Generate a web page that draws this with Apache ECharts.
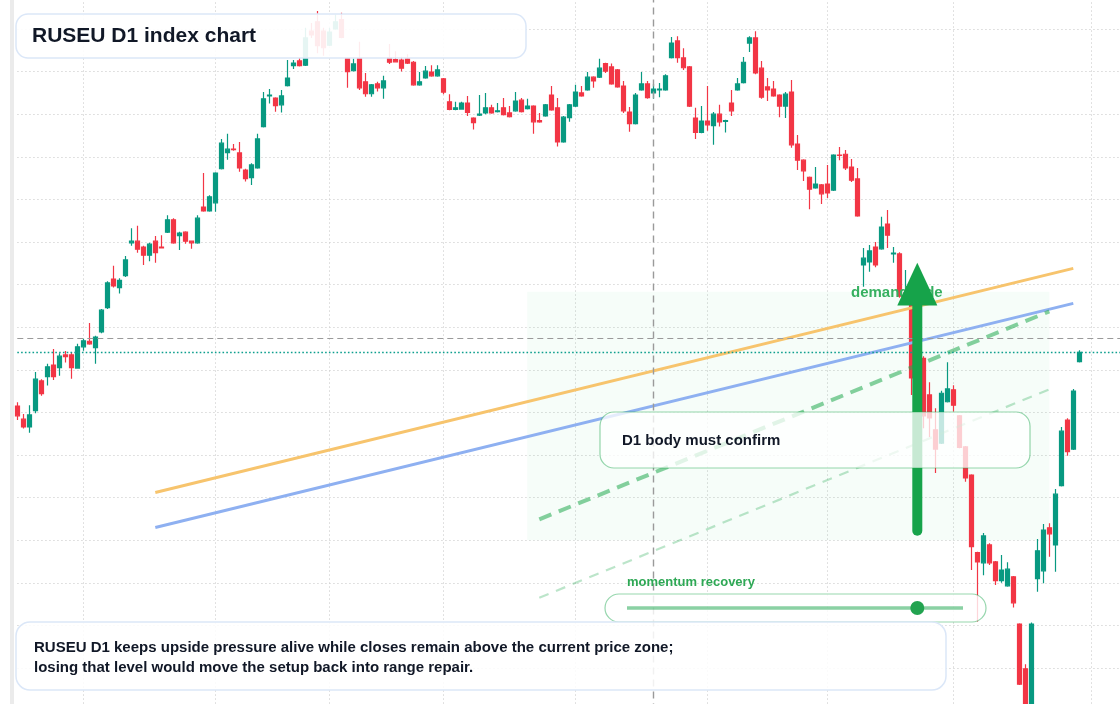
<!DOCTYPE html>
<html>
<head>
<meta charset="utf-8">
<script src="https://cdn.jsdelivr.net/npm/echarts@6/dist/echarts.min.js"></script>
<style>
  html, body { margin: 0; padding: 0; background: #ffffff; }
  #main { width: 1120px; height: 704px; }
</style>
</head>
<body>
<div id="main"></div>
<script>
// ---- data ----
const categories = Array.from({ length: 185 }, (_, i) => 'D' + (i + 1));
const monthStarts = [11, 33, 52, 71, 93, 115, 135, 156, 179];

// [open, close, low, high]
const ohlc = [
[1471.5,1469.2,1468.2,1472.4],[1468.4,1466.6,1466.2,1469.6],[1466.6,1469.4,1465.2,1471.7],[1470.4,1477.8,1469.8,1479.5],[1477.4,1474.4,1473.9,1477.8],
[1478.4,1480.7,1476.3,1481.4],[1481.1,1478.4,1477.6,1484.9],[1480.5,1483.2,1478.6,1483.9],[1483.5,1483.1,1481.7,1484.4],[1483.5,1480.5,1477.9,1484.2],
[1480.4,1485.4,1480.3,1486.1],[1485.4,1486.8,1484.5,1487.3],[1486.7,1486.1,1485.9,1491.0],[1485.2,1487.7,1481.4,1488.0],[1488.9,1494.0,1488.6,1494.3],
[1494.6,1500.4,1494.3,1500.8],[1501.3,1499.7,1499.3,1504.4],[1499.3,1501.0,1497.9,1501.5],[1502.1,1505.8,1501.8,1506.7],[1509.8,1510.2,1509.1,1513.2],
[1510.2,1508.3,1507.5,1513.8],[1508.8,1506.9,1504.6,1509.1],[1506.9,1509.5,1505.5,1509.8],[1510.2,1507.5,1505.1,1511.4],[1508.8,1508.6,1508.5,1511.6],
[1512.3,1515.2,1512.1,1516.3],[1515.2,1509.8,1509.6,1515.6],[1511.5,1512.1,1508.1,1512.4],[1512.3,1510.2,1509.6,1512.5],[1510.2,1509.8,1508.4,1510.3],
[1509.8,1515.6,1509.6,1516.3],[1518.2,1517.3,1517.1,1526.2],[1517.3,1520.6,1517.1,1521.0],[1519.2,1526.2,1517.1,1526.4],[1527.2,1533.2,1527.0,1534.2],
[1531.0,1531.8,1529.3,1535.4],[1531.8,1531.7,1531.4,1533.0],[1530.9,1527.4,1526.5,1533.5],[1526.9,1524.9,1524.2,1527.2],[1525.1,1528.1,1523.4,1528.5],
[1527.4,1534.2,1527.2,1535.4],[1537.1,1543.6,1536.9,1545.2],[1544.3,1544.5,1542.5,1545.9],[1543.8,1542.0,1540.6,1544.0],[1542.2,1544.3,1540.4,1545.7],
[1546.7,1548.5,1546.5,1552.7],[1551.4,1552.0,1550.6,1552.7],[1552.5,1551.4,1551.2,1553.2],[1551.5,1557.9,1551.3,1560.3],[1559.5,1558.6,1557.9,1561.4],
[1561.7,1556.1,1554.3,1564.2],[1559.5,1555.6,1553.7,1560.3],[1556.2,1559.3,1556.0,1560.3],[1560.0,1561.7,1559.8,1563.4],[1562.2,1558.0,1557.8,1563.8],
[1553.1,1550.0,1546.2,1553.3],[1550.2,1551.8,1550.0,1553.1],[1553.1,1546.2,1545.7,1557.0],[1547.6,1544.8,1544.1,1549.7],[1544.8,1546.9,1544.1,1547.1],
[1547.1,1546.2,1545.3,1547.6],[1546.2,1547.8,1543.6,1549.0],[1553.3,1552.2,1551.8,1556.5],[1552.8,1552.3,1552.2,1554.8],[1552.7,1550.8,1550.0,1553.5],
[1553.0,1552.0,1551.8,1554.1],[1552.2,1546.9,1546.7,1552.5],[1546.9,1547.6,1546.7,1549.9],[1548.5,1550.1,1548.3,1551.3],[1549.9,1549.0,1548.8,1551.5],
[1549.0,1550.4,1548.8,1551.5],[1548.3,1545.2,1544.7,1548.5],[1542.9,1541.1,1540.9,1544.7],[1541.1,1541.5,1540.9,1542.9],[1541.2,1542.6,1541.1,1542.9],
[1542.6,1540.4,1539.6,1544.3],[1539.1,1538.0,1536.4,1539.3],[1539.8,1540.0,1539.6,1544.5],[1540.3,1541.5,1540.0,1545.0],[1541.5,1540.3,1540.1,1542.2],
[1540.6,1540.8,1540.4,1542.6],[1541.5,1539.9,1539.7,1543.8],[1540.3,1539.4,1539.2,1541.9],[1540.8,1543.1,1540.6,1545.2],[1543.3,1540.6,1540.4,1543.8],
[1541.3,1541.9,1541.1,1543.6],[1541.9,1538.2,1535.4,1542.1],[1538.5,1538.2,1538.0,1540.3],[1539.6,1542.2,1539.4,1542.4],[1544.5,1541.0,1540.8,1546.6],
[1541.5,1533.5,1532.4,1543.8],[1533.5,1539.3,1533.3,1539.6],[1539.2,1542.2,1538.2,1542.4],[1541.9,1545.2,1541.7,1546.9],[1545.0,1544.3,1544.1,1546.6],
[1545.7,1548.7,1545.5,1549.9],[1548.7,1547.8,1546.2,1548.9],[1548.7,1550.8,1548.5,1553.0],[1551.9,1550.1,1549.7,1552.1],[1551.1,1547.1,1546.9,1551.9],
[1550.4,1546.4,1546.2,1550.6],[1546.6,1540.8,1540.3,1547.8],[1540.5,1537.8,1535.9,1541.7],[1537.8,1544.5,1537.6,1545.0],[1545.7,1547.1,1545.5,1549.9],
[1547.1,1543.9,1543.6,1547.8],[1545.0,1545.9,1543.6,1547.1],[1545.7,1545.9,1544.0,1547.3],[1545.7,1549.0,1545.5,1549.4],[1553.3,1556.7,1553.1,1558.1],
[1557.2,1553.3,1552.1,1558.3],[1553.2,1550.9,1550.4,1555.5],[1551.1,1541.9,1541.7,1551.3],[1539.1,1535.7,1534.2,1541.5],[1535.7,1538.4,1535.5,1541.9],
[1538.4,1537.5,1536.1,1546.6],[1537.3,1540.0,1532.8,1540.5],[1540.0,1538.2,1537.1,1542.2],[1538.3,1538.5,1535.7,1538.7],[1542.6,1540.8,1539.6,1545.7],
[1545.7,1547.1,1545.5,1548.5],[1547.4,1552.2,1547.2,1553.4],[1556.7,1557.9,1554.6,1558.3],[1557.9,1549.7,1549.4,1559.5],[1550.8,1544.0,1543.6,1552.5],
[1546.4,1545.7,1543.1,1548.5],[1545.9,1544.3,1544.1,1547.8],[1544.5,1541.9,1539.3,1544.7],[1541.9,1544.7,1539.1,1545.2],[1545.2,1532.8,1532.1,1548.0],
[1533.0,1529.2,1526.9,1535.1],[1529.2,1526.7,1524.3,1529.4],[1525.2,1522.4,1517.7,1525.4],[1522.7,1523.6,1522.5,1527.6],[1523.4,1521.3,1518.9,1523.6],
[1523.6,1521.5,1520.3,1528.1],[1522.2,1530.4,1522.0,1530.6],[1530.4,1530.3,1529.2,1532.3],[1530.6,1527.4,1526.9,1531.6],[1527.6,1524.5,1524.1,1529.5],
[1524.8,1516.1,1515.9,1527.4],[1504.6,1506.2,1499.5,1508.6],[1505.3,1507.9,1503.0,1509.3],[1508.8,1504.6,1504.1,1510.0],[1508.4,1513.5,1508.2,1515.9],
[1514.2,1511.6,1508.6,1517.5],[1507.2,1507.4,1505.1,1508.8],[1507.2,1497.3,1496.9,1507.6],[1496.4,1498.0,1495.4,1503.4],[1495.4,1478.1,1474.1,1495.6],
[1478.1,1483.2,1476.7,1484.2],[1482.7,1469.2,1466.3,1483.2],[1474.1,1468.7,1464.2,1477.1],[1465.9,1461.4,1455.8,1471.0],[1462.8,1474.5,1462.6,1475.1],
[1472.5,1475.5,1472.3,1481.8],[1475.3,1471.7,1470.2,1476.4],[1469.2,1461.8,1461.6,1469.4],[1461.9,1454.6,1453.7,1462.1],[1455.3,1438.5,1433.0,1455.5],
[1437.1,1434.9,1420.9,1437.3],[1434.7,1441.0,1431.8,1441.7],[1438.9,1434.7,1434.2,1439.3],[1434.9,1430.5,1429.5,1435.1],[1430.5,1433.0,1430.0,1436.5],
[1429.3,1433.2,1429.1,1434.8],[1431.4,1425.3,1424.2,1431.6],[1420.3,1406.2,1406.0,1420.5],[1409.8,1393.1,1391.0,1410.9],[1394.3,1420.3,1392.5,1420.7],
[1431.0,1437.5,1427.9,1440.3],[1432.8,1442.4,1429.9,1443.8],[1442.9,1441.5,1436.1,1444.0],[1438.9,1450.8,1432.6,1452.0],[1452.8,1465.6,1452.6,1466.6],
[1468.2,1460.8,1459.8,1468.6],[1461.4,1475.0,1461.2,1475.5],[1481.9,1484.1,1481.7,1484.6]
];

const yTicks = { min: 1400, max: 1570, interval: 10 };
const crosshairIndex = 106;
const crosshairPrice = 1487.5;
const lastClose = ohlc[ohlc.length - 1][1];

const orangeLine = [[23, 1451.2], [176, 1503.8]];
const blueLine = [[23, 1443.0], [176, 1495.6]];
const greenDash = [[87, 1444.9], [172, 1493.7]];
const faintDash = [[87, 1426.5], [172, 1475.4]];

const demandZone = { from: 85, to: 172, low: 1440.0, high: 1498.3 };
const arrowPlan = { index: 150, tail: 1442.2, base: 1495.1, tip: 1505.1 };

// ---- chart ----
const FONT = '"Liberation Sans", Arial, Helvetica, sans-serif';
const toCat = pts => pts.map(p => [categories[p[0]], p[1]]);

const chart = echarts.init(document.getElementById('main'));
const option = {
  animation: false,
  backgroundColor: '#ffffff',
  grid: { left: 17.3, right: -1.3, top: -13.6, bottom: -6.6, containLabel: false, outerBoundsMode: 'none' },
  xAxis: {
    type: 'category',
    data: categories,
    boundaryGap: false,
    axisLine: { show: false },
    axisTick: { show: false },
    axisLabel: { show: false },
    splitLine: {
      show: true,
      interval: (idx) => monthStarts.includes(idx),
      lineStyle: { color: '#d2d2d2', width: 1, type: [1.3, 2.7] }
    }
  },
  yAxis: {
    type: 'value',
    min: yTicks.min, max: yTicks.max, interval: yTicks.interval,
    axisLine: { show: false },
    axisTick: { show: false },
    axisLabel: { show: false },
    splitLine: { show: true, lineStyle: { color: '#d2d2d2', width: 1, type: [1.3, 2.7] } }
  },
  series: [
    {
      type: 'candlestick',
      data: ohlc,
      barWidth: 4.8,
      clip: false,
      itemStyle: {
        color: '#089981', color0: '#f23645',
        borderColor: '#089981', borderColor0: '#f23645',
        borderWidth: 1.2
      },
      markArea: {
        silent: true,
        itemStyle: { color: 'rgba(34,197,94,0.04)' },
        data: [[
          { xAxis: categories[demandZone.from], yAxis: demandZone.high },
          { xAxis: categories[demandZone.to], yAxis: demandZone.low }
        ]]
      },
      markLine: {
        silent: true,
        symbol: ['none', 'none'],
        label: { show: false },
        data: [
          { yAxis: crosshairPrice, lineStyle: { color: '#9a9a9a', width: 1.2, type: [6, 4] } },
          { yAxis: lastClose, lineStyle: { color: '#0e9f8e', width: 1.4, type: [1.6, 2.2] } },
          { xAxis: categories[crosshairIndex], lineStyle: { color: '#9a9a9a', width: 1.4, type: [7, 5] } }
        ]
      },
      z: 3
    },
    {
      type: 'line', data: toCat(orangeLine), symbol: 'none', silent: true,
      lineStyle: { color: '#f7c46d', width: 3 }, z: 4
    },
    {
      type: 'line', data: toCat(blueLine), symbol: 'none', silent: true,
      lineStyle: { color: '#8eb0f1', width: 3 }, z: 4
    },
    {
      type: 'line', data: toCat(greenDash), symbol: 'none', silent: true,
      lineStyle: { color: 'rgba(34,170,80,0.55)', width: 4, type: [13, 8] }, z: 4
    },
    {
      type: 'line', data: toCat(faintDash), symbol: 'none', silent: true,
      lineStyle: { color: 'rgba(34,170,80,0.3)', width: 2.2, type: [10, 8] }, z: 4
    }
  ]
};
chart.setOption(option);

// arrow tied to data coordinates
const tipPt = chart.convertToPixel({ gridIndex: 0 }, [arrowPlan.index, arrowPlan.tip]);
const basePt = chart.convertToPixel({ gridIndex: 0 }, [arrowPlan.index, arrowPlan.base]);
const tailPt = chart.convertToPixel({ gridIndex: 0 }, [arrowPlan.index, arrowPlan.tail]);
const ax = tipPt[0];
const GREEN = '#16a34a';

chart.setOption({
  graphic: [
    { type: 'rect', z: 50, silent: true, shape: { x: 10, y: 0, width: 4, height: 704 }, style: { fill: '#ebebeb' } },
    { type: 'text', z: 90, silent: true, style: { text: 'demand side', x: 851, y: 293, verticalAlign: 'middle', font: 'bold 15px ' + FONT, fill: '#36b060' } },
    { type: 'line', z: 95, silent: true, shape: { x1: ax, y1: tailPt[1], x2: ax, y2: basePt[1] - 4 }, style: { stroke: GREEN, lineWidth: 10, lineCap: 'round' } },
    { type: 'polygon', z: 96, silent: true, shape: { points: [[ax, tipPt[1]], [ax - 20, basePt[1]], [ax + 20, basePt[1]]] }, style: { fill: GREEN } },

    { type: 'rect', z: 100, silent: true, shape: { x: 600, y: 412, width: 430, height: 56, r: 14 }, style: { fill: 'rgba(255,255,255,0.76)', stroke: 'rgba(22,163,74,0.45)', lineWidth: 1.2 } },
    { type: 'text', z: 101, silent: true, style: { text: 'D1 body must confirm', x: 622, y: 441, verticalAlign: 'middle', font: 'bold 15px ' + FONT, fill: '#111827' } },

    { type: 'text', z: 101, silent: true, style: { text: 'momentum recovery', x: 627, y: 582, verticalAlign: 'middle', font: 'bold 13px ' + FONT, fill: '#2ea855' } },
    { type: 'rect', z: 100, silent: true, shape: { x: 605, y: 594, width: 381, height: 28, r: 14 }, style: { fill: 'rgba(255,255,255,0.8)', stroke: 'rgba(22,163,74,0.45)', lineWidth: 1.2 } },
    { type: 'line', z: 101, silent: true, shape: { x1: 627, y1: 608, x2: 963, y2: 608 }, style: { stroke: 'rgba(22,163,74,0.5)', lineWidth: 3.5 } },
    { type: 'circle', z: 102, silent: true, shape: { cx: ax, cy: 608, r: 7 }, style: { fill: '#22a350' } },

    { type: 'rect', z: 100, silent: true, shape: { x: 16, y: 14, width: 510, height: 44, r: 12 }, style: { fill: 'rgba(255,255,255,0.9)', stroke: '#dbe7f8', lineWidth: 1.5 } },
    { type: 'text', z: 101, silent: true, style: { text: 'RUSEU D1 index chart', x: 32, y: 36, verticalAlign: 'middle', font: 'bold 21px ' + FONT, fill: '#111827' } },

    { type: 'rect', z: 100, silent: true, shape: { x: 16, y: 622, width: 930, height: 68, r: 14 }, style: { fill: 'rgba(255,255,255,0.86)', stroke: '#dbe7f8', lineWidth: 1.5 } },
    { type: 'text', z: 101, silent: true, style: { text: 'RUSEU D1 keeps upside pressure alive while closes remain above the current price zone;', x: 34, y: 648, verticalAlign: 'middle', font: 'bold 15px ' + FONT, fill: '#111827' } },
    { type: 'text', z: 101, silent: true, style: { text: 'losing that level would move the setup back into range repair.', x: 34, y: 668, verticalAlign: 'middle', font: 'bold 15px ' + FONT, fill: '#111827' } }
  ]
});
</script>
</body>
</html>
